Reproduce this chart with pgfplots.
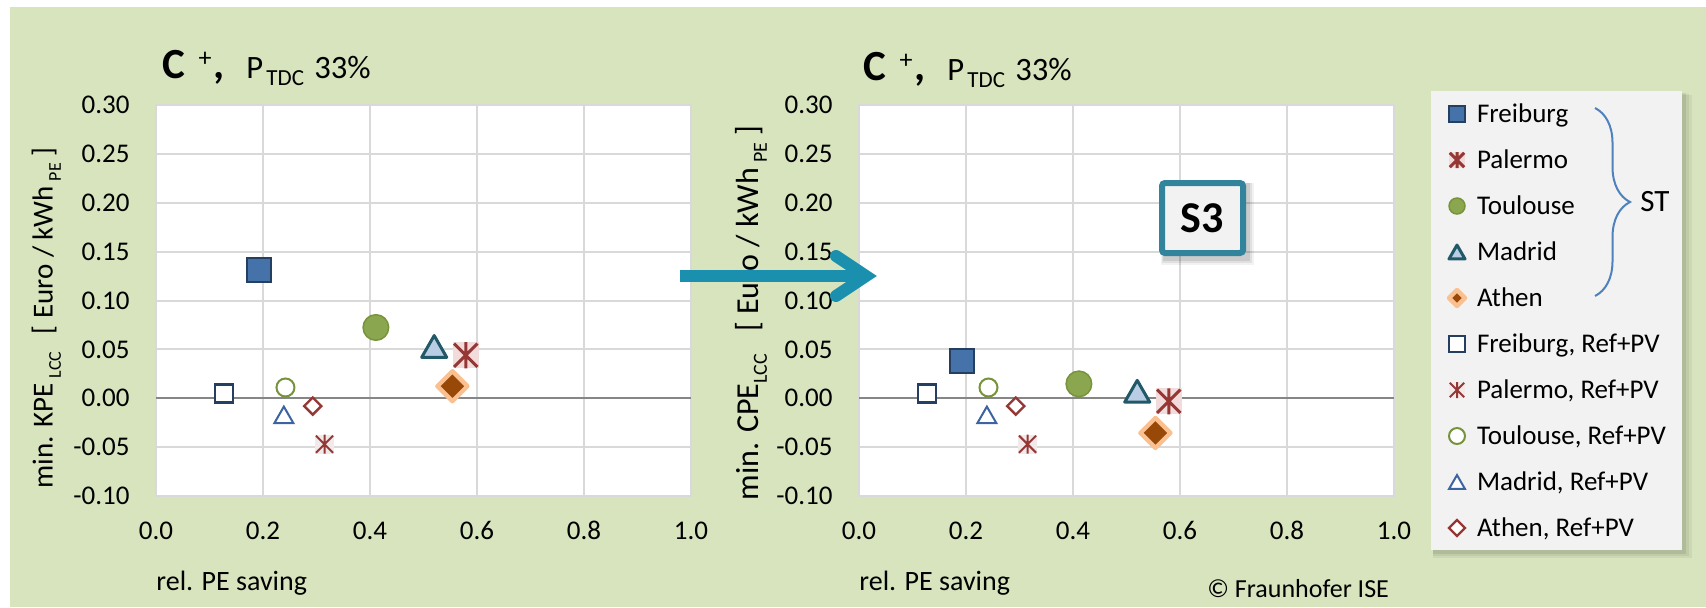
\documentclass[border=0pt]{standalone}
\usepackage{fontspec}
\setmainfont{Carlito}
\usepackage{pgfplots}
\pgfplotsset{compat=1.18}
\usetikzlibrary{decorations.pathreplacing}

\definecolor{cBg}{HTML}{D7E4BD}
\definecolor{cLeg}{HTML}{F2F2F2}
\definecolor{cGrid}{HTML}{D9D9D9}
\definecolor{cZero}{HTML}{868686}
\definecolor{cNavy}{HTML}{243F60}
\definecolor{cFrei}{HTML}{4672AA}
\definecolor{cRed}{HTML}{953735}
\definecolor{cPink}{HTML}{F2DCDB}
\definecolor{cPinkL}{HTML}{F2EAEA}
\definecolor{cTouF}{HTML}{8AA64E}
\definecolor{cTouE}{HTML}{77933C}
\definecolor{cMadF}{HTML}{B9CDE5}
\definecolor{cMadE}{HTML}{215968}
\definecolor{cMadR}{HTML}{3B64A0}
\definecolor{cAthF}{HTML}{984807}
\definecolor{cAthE}{HTML}{FAC090}
\definecolor{cArrow}{HTML}{1A8FAE}
\definecolor{cSbox}{HTML}{31849B}
\definecolor{cBrace}{HTML}{4F81BD}

\pgfdeclareplotmark{xstar}{%
  \pgfpathrectangle{\pgfqpoint{-\pgfplotmarksize}{-\pgfplotmarksize}}{\pgfqpoint{2\pgfplotmarksize}{2\pgfplotmarksize}}%
  \pgfusepathqfill
  \pgfpathmoveto{\pgfqpoint{0pt}{-\pgfplotmarksize}}%
  \pgfpathlineto{\pgfqpoint{0pt}{\pgfplotmarksize}}%
  \pgfpathmoveto{\pgfqpoint{-0.9\pgfplotmarksize}{-0.9\pgfplotmarksize}}%
  \pgfpathlineto{\pgfqpoint{0.9\pgfplotmarksize}{0.9\pgfplotmarksize}}%
  \pgfpathmoveto{\pgfqpoint{-0.9\pgfplotmarksize}{0.9\pgfplotmarksize}}%
  \pgfpathlineto{\pgfqpoint{0.9\pgfplotmarksize}{-0.9\pgfplotmarksize}}%
  \pgfusepathqstroke
}
\pgfdeclareplotmark{tri}{%
  \pgfpathmoveto{\pgfqpoint{0pt}{0.87\pgfplotmarksize}}%
  \pgfpathlineto{\pgfqpoint{\pgfplotmarksize}{-0.87\pgfplotmarksize}}%
  \pgfpathlineto{\pgfqpoint{-\pgfplotmarksize}{-0.87\pgfplotmarksize}}%
  \pgfpathclose
  \pgfusepathqfillstroke
}
\pgfdeclareplotmark{dia}{%
  \pgfpathmoveto{\pgfqpoint{0pt}{\pgfplotmarksize}}%
  \pgfpathlineto{\pgfqpoint{\pgfplotmarksize}{0pt}}%
  \pgfpathlineto{\pgfqpoint{0pt}{-\pgfplotmarksize}}%
  \pgfpathlineto{\pgfqpoint{-\pgfplotmarksize}{0pt}}%
  \pgfpathclose
  \pgfusepathqfillstroke
}

\newcommand{\subA}[1]{\raisebox{-0.28em}{\fontsize{9pt}{9pt}\selectfont #1}}
\newcommand{\subB}[1]{\raisebox{-0.28em}{\fontsize{10pt}{10pt}\selectfont #1}}

\pgfplotsset{
 myaxis/.style={
  scale only axis, width=267.5pt, height=195.5pt,
  xmin=0, xmax=1, ymin=-0.1, ymax=0.3,
  xtick={0,0.2,0.4,0.6,0.8,1},
  ytick={-0.1,-0.05,0,0.05,0.1,0.15,0.2,0.25,0.3},
  scaled ticks=false,
  grid=major, major grid style={draw=cGrid, line width=1pt},
  axis line style={draw=cGrid, line width=1pt},
  major tick length=0pt, tick style={draw=none},
  axis background/.style={fill=white},
  /pgf/number format/assume math mode=true,
  x tick label style={/pgf/number format/.cd, fixed, fixed zerofill, precision=1, /tikz/.cd},
  y tick label style={/pgf/number format/.cd, fixed, fixed zerofill, precision=2, /tikz/.cd},
  tick label style={font=\fontsize{13.5pt}{16pt}\selectfont},
  yticklabel style={anchor=east, inner sep=0pt, xshift=-13pt},
  xticklabel style={anchor=base, inner sep=0pt, yshift=-21.5pt},
  extra y ticks={0}, extra y tick labels={},
  extra y tick style={grid=major, major grid style={draw=cZero, line width=1pt}},
  xlabel={rel. PE saving},
  xlabel style={at={(axis description cs:0,-0.2404)}, anchor=base west, inner sep=0pt, font=\fontsize{14pt}{16pt}\selectfont},
 },
 sFre/.style={only marks, mark=square*, mark size=6pt, mark options={solid, draw=cNavy, fill=cFrei, line width=1pt}},
 sPal/.style={only marks, mark=xstar, mark size=6.5pt, mark options={solid, draw=cRed, fill=cPink, line width=1.5pt}},
 sTou/.style={only marks, mark=*, mark size=6.4pt, mark options={solid, draw=cTouE, fill=cTouF, line width=0.75pt}},
 sMad/.style={only marks, mark=tri, mark size=6.25pt, mark options={solid, draw=cMadE, fill=cMadF, line width=1.5pt, line join=round}},
 sAth/.style={only marks, mark=dia, mark size=7.5pt, mark options={solid, draw=cAthE, fill=cAthF, line width=2.2pt, line join=round}},
 rFre/.style={only marks, mark=square*, mark size=4.5pt, mark options={solid, draw=cNavy, fill=white, line width=1.4pt}},
 rPal/.style={only marks, mark=xstar, mark size=4.75pt, mark options={solid, draw=cRed, fill=cPinkL, line width=1pt}},
 rTou/.style={only marks, mark=*, mark size=4.5pt, mark options={solid, draw=cTouE, fill=white, line width=1pt}},
 rMad/.style={only marks, mark=tri, mark size=4.75pt, mark options={solid, draw=cMadR, fill=white, line width=1pt}},
 rAth/.style={only marks, mark=dia, mark size=4.3pt, mark options={solid, draw=cRed, fill=white, line width=1.2pt}},
}

% pixel-based placement: x=0.5pt per px, Y = 607 - y
\newcommand{\ctitle}[2]{%
  \node[anchor=base west, inner sep=0pt, font=\fontsize{21.5pt}{24pt}\selectfont\bfseries] at (#1,#2) {C};
  \node[anchor=base, inner sep=0pt, font=\fontsize{13pt}{15pt}\selectfont] at ({#1+43},{#2+12}) {+};
  \node[anchor=base west, inner sep=0pt, font=\fontsize{21.5pt}{24pt}\selectfont\bfseries] at ({#1+51},#2) {,};
  \node[anchor=base west, inner sep=0pt, font=\fontsize{16.3pt}{18pt}\selectfont] at ({#1+84},#2) {P};
  \node[anchor=base west, inner sep=0pt, font=\fontsize{11.5pt}{13pt}\selectfont] at ({#1+104},{#2-7}) {TDC};
  \node[anchor=base west, inner sep=0pt, font=\fontsize{16.3pt}{18pt}\selectfont] at ({#1+152},#2) {33\%};
}

\begin{document}
\begin{tikzpicture}[x=0.5pt, y=0.5pt]
\path[use as bounding box] (0,0) rectangle (1706,607);
\fill[cBg] (10,0) rectangle (1706,600);

% legend panel with soft shadow
\fill[black, opacity=0.05] (1433,49) rectangle (1692,512);
\fill[black, opacity=0.06] (1433,51) rectangle (1689,513);
\fill[black, opacity=0.08] (1433,53) rectangle (1686,514);
\fill[cLeg] (1431,57) rectangle (1682,516);
\draw[cBrace, line width=1pt, decorate, decoration={brace, amplitude=17.5pt, aspect=0.5}] (1595,499) -- (1595,311);
\node[anchor=west, inner sep=0pt, font=\fontsize{15.5pt}{18pt}\selectfont] at (1640,405) {ST};

% left chart
\begin{axis}[myaxis, at={(78pt,55.5pt)}, anchor=south west,
  ylabel={min. KPE\,\subA{LCC}\hspace{0.6em}[ Euro / kWh\,\subA{PE} ]},
  ylabel style={at={(axis description cs:-0.1931,0.4552)}, anchor=base, inner sep=0pt, font=\fontsize{14.5pt}{16pt}\selectfont}]
\addplot[sFre] coordinates {(0.193,0.131)};
\addplot[sPal] coordinates {(0.579,0.044)};
\addplot[sTou] coordinates {(0.411,0.0724)};
\addplot[sMad] coordinates {(0.520,0.053)};
\addplot[sAth] coordinates {(0.554,0.0123)};
\addplot[rFre] coordinates {(0.127,0.005)};
\addplot[rPal] coordinates {(0.315,-0.047)};
\addplot[rTou] coordinates {(0.242,0.011)};
\addplot[rMad] coordinates {(0.239,-0.017)};
\addplot[rAth] coordinates {(0.293,-0.008)};
\end{axis}

% right chart
\begin{axis}[myaxis, at={(429.5pt,55.5pt)}, anchor=south west,
  ylabel={min. CPE\subB{LCC}\hspace{0.7em}[ Euro / kWh\,\subB{PE} ]},
  ylabel style={at={(axis description cs:-0.1888,0.468)}, anchor=base, inner sep=0pt, font=\fontsize{16pt}{18pt}\selectfont},
  legend cell align=left,
  legend style={at={(axis description cs:1.06916,1.03581)}, anchor=north west, draw=none, fill=none,
    inner sep=0pt, outer sep=0pt, row sep=0pt, column sep=0pt,
    font=\fontsize{13.5pt}{16pt}\selectfont,
    nodes={inner sep=0pt, text height=15.5pt, text depth=7.5pt}},
  legend image code/.code={\path[draw=none, fill=none] (0pt,-11.5pt) rectangle (23pt,11.5pt); \draw[#1] plot coordinates {(13pt,0pt)};},
  legend image post style={mark size=4pt}]
\addplot[sFre] coordinates {(0.193,0.0386)};
\addlegendentry{Freiburg}
\addplot[sPal] coordinates {(0.579,-0.0031)};
\addlegendentry{Palermo}
\addplot[sTou] coordinates {(0.411,0.0147)};
\addlegendentry{Toulouse}
\addplot[sMad] coordinates {(0.520,0.0072)};
\addlegendentry{Madrid}
\addplot[sAth] coordinates {(0.554,-0.0355)};
\addlegendentry{Athen}
\addplot[rFre] coordinates {(0.127,0.005)};
\addlegendentry{Freiburg, Ref+PV}
\addplot[rPal] coordinates {(0.315,-0.047)};
\addlegendentry{Palermo, Ref+PV}
\addplot[rTou] coordinates {(0.242,0.011)};
\addlegendentry{Toulouse, Ref+PV}
\addplot[rMad] coordinates {(0.239,-0.017)};
\addlegendentry{Madrid, Ref+PV}
\addplot[rAth] coordinates {(0.293,-0.008)};
\addlegendentry{Athen, Ref+PV}
\end{axis}

% titles
\ctitle{162}{529}
\ctitle{863}{527}

% S3 box
\fill[black, opacity=0.05] (1161,342) rectangle (1254,424);
\fill[black, opacity=0.07] (1162,344) rectangle (1252,424);
\fill[black, opacity=0.09] (1163,346) rectangle (1250,424);
\node[draw=cSbox, fill=cLeg, line width=3pt, rounded corners=1.5pt, minimum width=40.5pt, minimum height=35pt, inner sep=0pt, font=\fontsize{22pt}{24pt}\selectfont\bfseries] at (1202.5,389) {S3};

% arrow
\draw[cArrow, line width=6pt] (680,331) -- (858,331);
\draw[cArrow, line width=6pt, line cap=round, line join=miter] (836,351) -- (866,331) -- (836,311);

% copyright
\node[anchor=base west, inner sep=0pt, font=\fontsize{13pt}{15pt}\selectfont] at (1207,10) {© Fraunhofer ISE};
\end{tikzpicture}
\end{document}
